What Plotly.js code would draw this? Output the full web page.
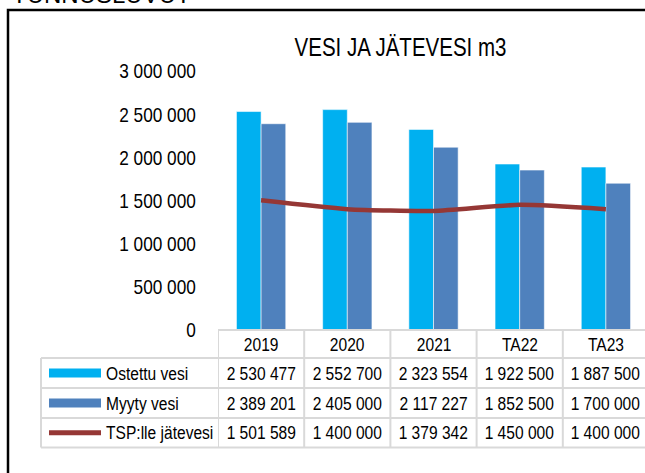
<!DOCTYPE html>
<html>
<head>
<meta charset="utf-8">
<script src="https://cdn.plot.ly/plotly-3.0.1.min.js"></script>
<style>html,body{margin:0;padding:0;background:#fff;}#chart{width:645px;height:473px;}</style>
</head>
<body>
<div id="chart"></div>
<script>
// ---- data ----
const categories = ['2019', '2020', '2021', 'TA22', 'TA23'];
const ostettuVesi = [2530477, 2552700, 2323554, 1922500, 1887500];
const myytyVesi = [2389201, 2405000, 2117227, 1852500, 1700000];
const tspJatevesi = [1501589, 1400000, 1379342, 1450000, 1400000];
const seriesNames = ['Ostettu vesi', 'Myyty vesi', 'TSP:lle jätevesi'];
const yTickVals = [0, 500000, 1000000, 1500000, 2000000, 2500000, 3000000];
const chartTitle = 'VESI JA JÄTEVESI m3';
const pageHeading = 'TUNNUSLUVUT';

// ---- styles ----
const FONT = "'Liberation Sans Narrow', 'Arial Narrow', 'Liberation Sans', Arial, sans-serif";
const C_CYAN = '#00B0F0', C_BLUE = '#4F81BD', C_RED = '#953735', C_GRID = '#D9D9D9';
const NARROW = 0.82;   // horizontal squeeze to imitate a narrow typeface

const fmt = v => String(v).replace(/\B(?=(\d{3})+(?!\d))/g, ' ');

const W = 645, H = 473;
const L = 218, T = 71, B = 330;          // plot area pixel edges
const colW = 86.2;
const plotW = W - L, plotH = B - T;
const px = x => (x - L) / plotW;         // pixel -> paper x
const py = y => (B - y) / plotH;         // pixel -> paper y

const traces = [
  {type: 'bar', name: seriesNames[0], x: categories, y: ostettuVesi,
   marker: {color: C_CYAN, line: {color: 'rgba(255,255,255,0.7)', width: 0.8}}},
  {type: 'bar', name: seriesNames[1], x: categories, y: myytyVesi,
   marker: {color: C_BLUE, line: {color: 'rgba(255,255,255,0.7)', width: 0.8}}},
  {type: 'scatter', mode: 'lines', name: seriesNames[2], x: categories, y: tspJatevesi,
   line: {color: C_RED, width: 4.5, shape: 'spline', smoothing: 0.6}}
];

// table geometry (pixels)
const rowLines = [330, 358, 388, 418, 447.5];
const rowCenters = [344, 373, 403, 432.7];
const tableLeft = 41;

const shapes = [];
const annotations = [];

// outer frame
shapes.push({type: 'rect', xref: 'paper', yref: 'paper', x0: px(8), x1: px(700), y0: py(520), y1: py(10),
  line: {color: '#000', width: 2.5}, fillcolor: 'rgba(0,0,0,0)', layer: 'below'});

// horizontal table lines
rowLines.forEach((y, i) => {
  shapes.push({type: 'line', xref: 'paper', yref: 'paper', x0: px(i === 0 ? L : tableLeft), x1: px(700),
    y0: py(y), y1: py(y), line: {color: C_GRID, width: 2}});
});
// vertical table lines
shapes.push({type: 'line', xref: 'paper', yref: 'paper', x0: px(tableLeft), x1: px(tableLeft),
  y0: py(rowLines[1]), y1: py(rowLines[4]), line: {color: C_GRID, width: 2}});
for (let i = 0; i <= categories.length; i++) {
  shapes.push({type: 'line', xref: 'x', yref: 'paper', x0: i - 0.5, x1: i - 0.5,
    y0: py(rowLines[0]), y1: py(rowLines[4]), line: {color: C_GRID, width: 2}});
}

// header cells
categories.forEach((c, i) => {
  annotations.push({xref: 'x', yref: 'paper', x: i, y: py(rowCenters[0]), text: c, showarrow: false,
    xanchor: 'center', yanchor: 'middle', font: {family: FONT, size: 19, color: '#000'}});
});
// value rows
[ostettuVesi, myytyVesi, tspJatevesi].forEach((arr, r) => {
  arr.forEach((v, i) => {
    annotations.push({xref: 'x', yref: 'paper', x: i, y: py(rowCenters[r + 1]), text: fmt(v), showarrow: false,
      xanchor: 'center', yanchor: 'middle', font: {family: FONT, size: 19, color: '#000'}});
  });
  annotations.push({xref: 'paper', yref: 'paper', x: px(104), y: py(rowCenters[r + 1]), text: seriesNames[r],
    showarrow: false, xanchor: 'left', yanchor: 'middle', font: {family: FONT, size: 19, color: '#000'}});
});
// legend swatches
shapes.push({type: 'rect', xref: 'paper', yref: 'paper', x0: px(49), x1: px(101),
  y0: py(rowCenters[1] + 4.5), y1: py(rowCenters[1] - 4.5), fillcolor: C_CYAN, line: {width: 0}});
shapes.push({type: 'rect', xref: 'paper', yref: 'paper', x0: px(49), x1: px(101),
  y0: py(rowCenters[2] + 4.5), y1: py(rowCenters[2] - 4.5), fillcolor: C_BLUE, line: {width: 0}});
shapes.push({type: 'line', xref: 'paper', yref: 'paper', x0: px(49), x1: px(101),
  y0: py(rowCenters[3]), y1: py(rowCenters[3]), line: {color: C_RED, width: 5}});

// partially visible page heading
annotations.push({xref: 'paper', yref: 'paper', x: px(10), y: py(10), text: pageHeading, showarrow: false,
  xanchor: 'left', yanchor: 'bottom', font: {family: "'Liberation Sans', Arial, sans-serif", size: 24, color: '#000'}});

const layout = {
  width: W, height: H,
  margin: {l: L, r: 0, t: T, b: H - B, pad: 0},
  paper_bgcolor: '#fff', plot_bgcolor: '#fff',
  showlegend: false,
  separators: ', ',
  barmode: 'group', bargap: 0.428, bargroupgap: 0,
  title: {text: chartTitle, x: 400.5 / W, xanchor: 'center', xref: 'container', y: 1 - 47.5 / H, yanchor: 'middle', yref: 'container',
    font: {family: FONT, size: 25, color: '#000'}},
  xaxis: {type: 'category', range: [-0.5, -0.5 + plotW / colW], showticklabels: false, showgrid: false,
    zeroline: false, showline: false, ticks: '', fixedrange: true},
  yaxis: {range: [0, 3000000], tickvals: yTickVals, tickformat: ',d', showgrid: false, zeroline: false,
    showline: false, ticks: 'outside', ticklen: 17, tickcolor: 'rgba(0,0,0,0)',
    tickfont: {family: FONT, size: 21, color: '#000'}, fixedrange: true},
  shapes: shapes,
  annotations: annotations,
  font: {family: FONT, color: '#000'}
};

// squeeze text horizontally (imitates Arial Narrow); left-anchored row labels keep their left edge
function squeezeText(gd, s) {
  gd.querySelectorAll('svg text').forEach(t => {
    const txt = t.textContent;
    if (txt === pageHeading) return;
    let x = parseFloat(t.getAttribute('x')) || 0;
    if (seriesNames.indexOf(txt) >= 0) x = t.getBBox().x;
    const tr = t.getAttribute('transform') || '';
    t.setAttribute('transform', tr + ' translate(' + x + ',0) scale(' + s + ',1) translate(' + (-x) + ',0)');
  });
}

Plotly.newPlot('chart', traces, layout, {displayModeBar: false, staticPlot: true})
  .then(gd => squeezeText(gd, NARROW));
</script>
</body>
</html>
